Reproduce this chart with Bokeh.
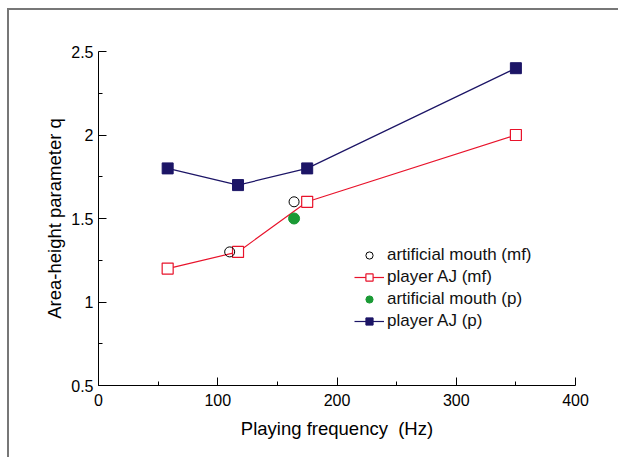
from bokeh.plotting import figure
from bokeh.layouts import column
from bokeh.models import Range1d, FixedTicker, Legend, LegendItem
from bokeh.embed import file_html
from bokeh.resources import INLINE

# Data
am_mf_x = [110, 164]
am_mf_y = [1.3, 1.6]
aj_mf_x = [58, 117, 175, 350]
aj_mf_y = [1.2, 1.3, 1.6, 2.0]
am_p_x = [164]
am_p_y = [1.5]
aj_p_x = [58, 117, 175, 350]
aj_p_y = [1.8, 1.7, 1.8, 2.4]

x_ticks = [0, 100, 200, 300, 400]
x_minor = [50, 150, 250, 350]
y_ticks = [0.5, 1, 1.5, 2, 2.5]
y_minor = [0.75, 1.25, 1.75, 2.25]

FONT = "Liberation Sans"
NAVY = "#1c1566"
RED = "#e8132b"
GREEN = "#1a9a35"

p = figure(frame_width=477, frame_height=334, output_backend="svg",
           toolbar_location=None, x_range=Range1d(0, 400), y_range=Range1d(0.5, 2.5),
           min_border_left=89, min_border_right=43, min_border_top=41, min_border_bottom=72)
p.outline_line_color = None
p.grid.visible = False
p.background_fill_color = "white"
p.border_fill_color = "white"

for ax in (p.xaxis[0], p.yaxis[0]):
    ax.major_tick_in = 8
    ax.major_tick_out = 0
    ax.minor_tick_in = 4
    ax.minor_tick_out = 0
    ax.axis_line_color = "black"
    ax.major_tick_line_color = "black"
    ax.minor_tick_line_color = "black"
    ax.major_label_text_font = FONT
    ax.major_label_text_font_size = "16px"
    ax.major_label_text_color = "black"
    ax.axis_label_text_font = FONT
    ax.axis_label_text_font_size = "18.5px"
    ax.axis_label_text_font_style = "normal"
    ax.axis_label_text_color = "black"

p.xaxis[0].ticker = FixedTicker(ticks=x_ticks, minor_ticks=x_minor)
p.yaxis[0].ticker = FixedTicker(ticks=y_ticks, minor_ticks=y_minor)
p.xaxis[0].major_label_standoff = 8
p.yaxis[0].major_label_standoff = 5
p.xaxis[0].axis_label = "Playing frequency\u00a0 (Hz)"
p.yaxis[0].axis_label = "Area-height parameter q"
p.xaxis[0].axis_label_standoff = 9
p.yaxis[0].axis_label_standoff = 3

# player AJ (p)
l_p = p.line(aj_p_x, aj_p_y, line_color=NAVY, line_width=1.2)
s_p = p.scatter(aj_p_x, aj_p_y, marker="square", size=11, fill_color=NAVY, line_color=NAVY)
# player AJ (mf)
l_mf = p.line(aj_mf_x, aj_mf_y, line_color=RED, line_width=1.2)
s_mf = p.scatter(aj_mf_x, aj_mf_y, marker="square", size=11, fill_color="white", line_color=RED, line_width=1.2)
# artificial mouth (mf)
c_mf = p.scatter(am_mf_x, am_mf_y, marker="circle", size=10, fill_color=None, line_color="black", line_width=1)
# artificial mouth (p)
c_p = p.scatter(am_p_x, am_p_y, marker="circle", size=11, fill_color=GREEN, line_color=GREEN)

legend = Legend(items=[
    LegendItem(label="artificial mouth (mf)", renderers=[c_mf]),
    LegendItem(label="player AJ (mf)", renderers=[l_mf, s_mf]),
    LegendItem(label="artificial mouth (p)", renderers=[c_p]),
    LegendItem(label="player AJ (p)", renderers=[l_p, s_p]),
], location=(256, 54))
legend.border_line_color = None
legend.background_fill_alpha = 0
legend.label_text_font = FONT
legend.label_text_font_size = "17px"
legend.label_text_color = "#111111"
legend.glyph_width = 30
legend.glyph_height = 18
legend.label_height = 18
legend.spacing = 2
legend.label_standoff = 3
legend.padding = 4
p.add_layout(legend, "center")

inner = column(p, styles={"border-top": "2px solid #777777", "border-left": "2px solid #777777"})
layout = column(inner, styles={"padding-left": "7px", "padding-top": "8px"})

open("out.html", "w").write(file_html(layout, INLINE))
